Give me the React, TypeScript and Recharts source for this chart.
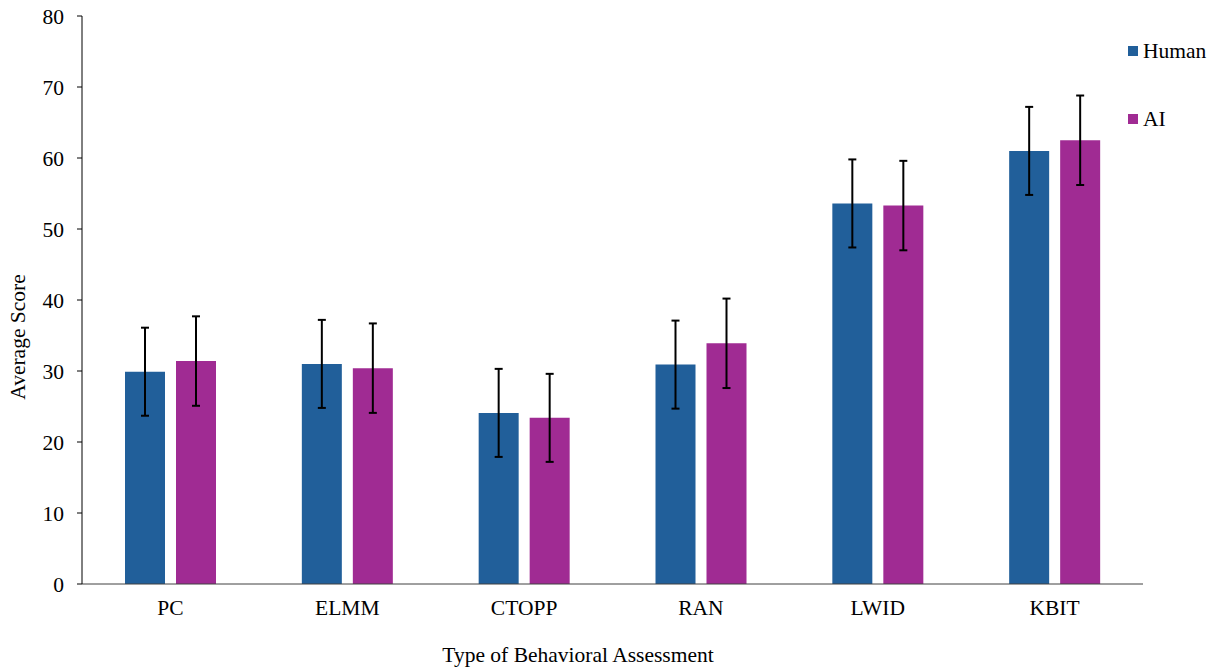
import { Bar, BarChart, ErrorBar, XAxis, YAxis } from "recharts";

const categories = ["PC", "ELMM", "CTOPP", "RAN", "LWID", "KBIT"];
const human = [29.9, 31.0, 24.1, 30.9, 53.6, 61.0];
const ai = [31.4, 30.4, 23.4, 33.9, 53.3, 62.5];
const humanErr = [6.2, 6.2, 6.2, 6.2, 6.2, 6.2];
const aiErr = [6.3, 6.3, 6.2, 6.3, 6.3, 6.3];
const yTicks = [0, 10, 20, 30, 40, 50, 60, 70, 80];

const FONT = "'Liberation Serif', 'Times New Roman', Times, 'DejaVu Serif', serif";
const FS = 21.5;
const HUMAN = "#215F9A";
const AI = "#A02B93";

const data = categories.map((c, i) => ({
  name: c,
  human: human[i],
  ai: ai[i],
  humanErr: humanErr[i],
  aiErr: aiErr[i],
}));

const legendItems = [
  { label: "Human", color: HUMAN },
  { label: "AI", color: AI },
];

export default function App() {
  return (
    <div
      style={{
        position: "absolute",
        left: 0,
        top: 0,
        width: 1212,
        height: 667,
        background: "#fff",
        fontFamily: FONT,
      }}
    >
      <BarChart
        width={1212}
        height={667}
        data={data}
        margin={{ top: 16, right: 69, bottom: 0, left: 0 }}
        barSize={40}
        barGap={11}
        style={{ fontFamily: FONT }}
      >
        <XAxis
          dataKey="name"
          height={83}
          stroke="#404040"
          tickLine={false}
          tickSize={6}
          tickMargin={10}
          tick={{ fill: "#000", fontSize: FS, style: { fontFamily: FONT } }}
          label={{
            content: () => (
              <text
                x={578}
                y={662}
                textAnchor="middle"
                style={{ fontFamily: FONT }}
                fontSize={FS}
                fill="#000"
              >
                Type of Behavioral Assessment
              </text>
            ),
          }}
        />
        <YAxis
          width={82}
          domain={[0, 80]}
          ticks={yTicks}
          interval={0}
          stroke="#000"
          tickSize={5}
          tickMargin={13}
          tick={{ fill: "#000", fontSize: FS, style: { fontFamily: FONT } }}
          label={{
            content: () => (
              <text
                x={25}
                y={337}
                transform="rotate(-90 25 337)"
                textAnchor="middle"
                style={{ fontFamily: FONT }}
                fontSize={FS}
                fill="#000"
              >
                Average Score
              </text>
            ),
          }}
        />
        <Bar dataKey="human" name="Human" fill={HUMAN} isAnimationActive={false}>
          <ErrorBar dataKey="humanErr" width={4} stroke="#000" strokeWidth={2} />
        </Bar>
        <Bar dataKey="ai" name="AI" fill={AI} isAnimationActive={false}>
          <ErrorBar dataKey="aiErr" width={4} stroke="#000" strokeWidth={2} />
        </Bar>
      </BarChart>
      <div
        style={{
          position: "absolute",
          left: 1128,
          top: 39,
          fontSize: FS,
          color: "#000",
        }}
      >
        {legendItems.map((it) => (
          <div
            key={it.label}
            style={{ display: "flex", alignItems: "center", height: 24, marginBottom: 44, whiteSpace: "nowrap" }}
          >
            <span
              style={{ width: 10, height: 10, background: it.color, marginRight: 5, display: "inline-block" }}
            />
            <span>{it.label}</span>
          </div>
        ))}
      </div>
    </div>
  );
}
